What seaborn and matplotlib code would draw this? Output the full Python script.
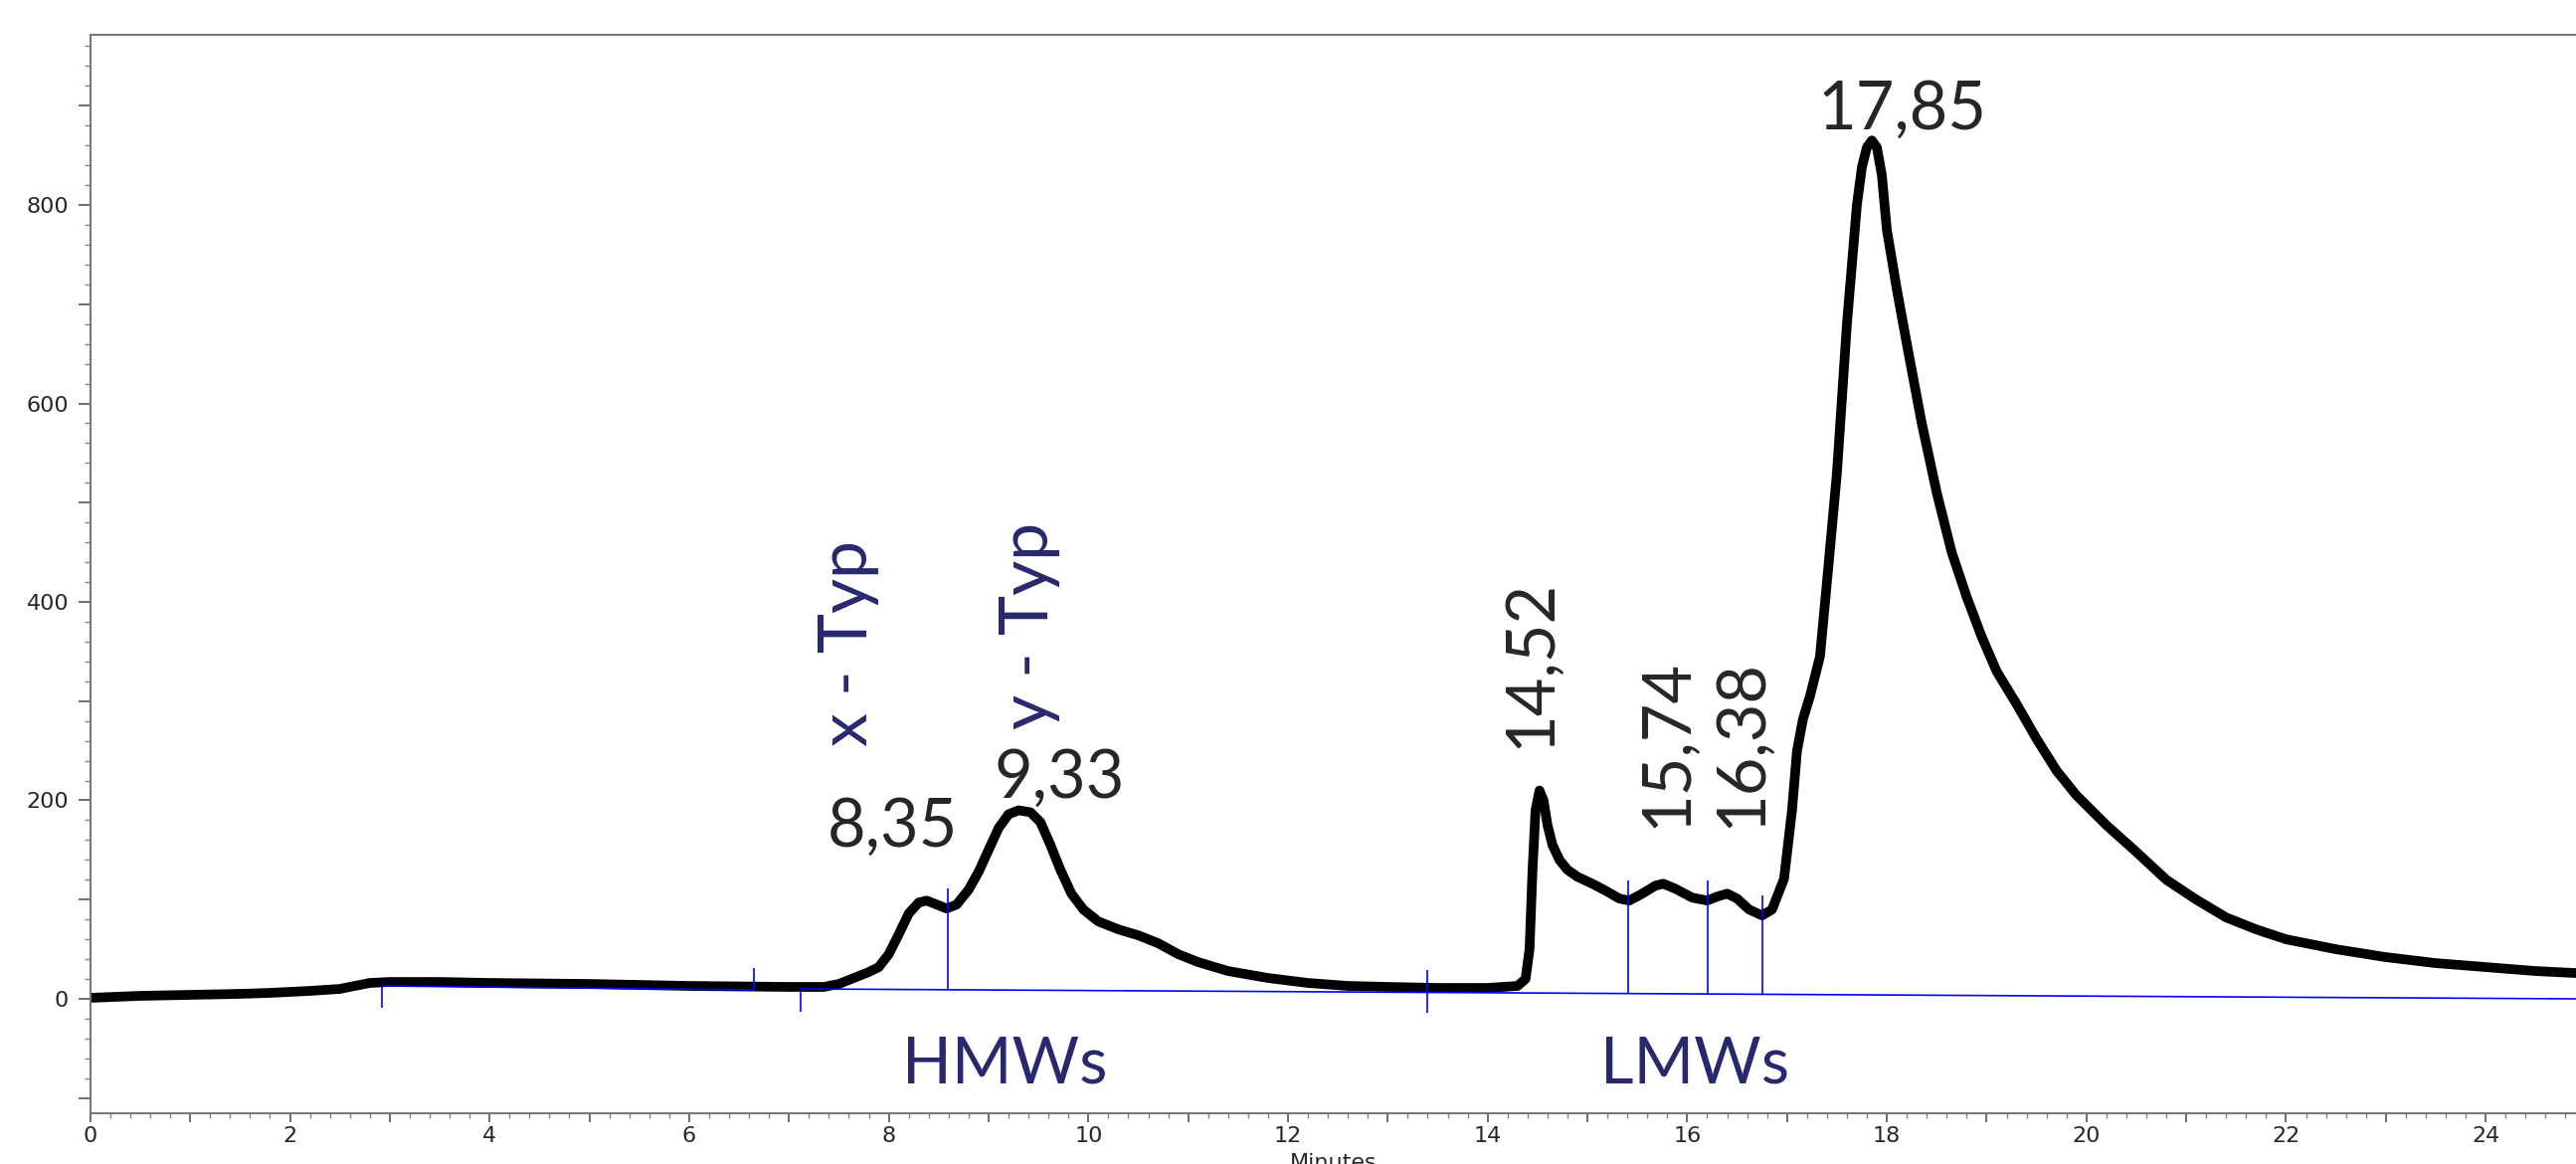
import matplotlib
matplotlib.use("Agg")
import matplotlib.pyplot as plt
import seaborn as sns
import pandas as pd
from matplotlib.ticker import MultipleLocator, FuncFormatter

# chromatogram trace (minutes, signal)
minutes = [0.0, 0.5, 1.0, 1.5, 1.8, 2.2, 2.5, 2.65, 2.8, 3.0, 3.5, 4.0, 5.0, 6.0, 7.0, 7.35,
           7.5, 7.65, 7.8, 7.9, 8.0, 8.1, 8.2, 8.3, 8.38, 8.48, 8.58, 8.68, 8.8, 8.9, 9.0,
           9.1, 9.2, 9.3, 9.42, 9.52, 9.62, 9.72, 9.83, 9.95, 10.1, 10.3, 10.5, 10.7, 10.9,
           11.1, 11.4, 11.8, 12.2, 12.6, 13.0, 13.5, 14.0, 14.3, 14.38, 14.42, 14.45, 14.48,
           14.52, 14.56, 14.6, 14.65, 14.72, 14.8, 14.9, 15.05, 15.2, 15.32, 15.42, 15.55,
           15.68, 15.76, 15.88, 16.05, 16.2, 16.3, 16.4, 16.5, 16.62, 16.75, 16.85, 16.97,
           17.05, 17.1, 17.16, 17.23, 17.33, 17.4, 17.5, 17.6, 17.7, 17.75, 17.8, 17.85,
           17.9, 17.95, 18.0, 18.1, 18.2, 18.35, 18.5, 18.65, 18.8, 18.95, 19.1, 19.3, 19.5,
           19.7, 19.9, 20.2, 20.5, 20.8, 21.1, 21.4, 21.7, 22.0, 22.5, 23.0, 23.5, 24.0,
           24.5, 24.9]
signal = [1, 3, 4, 5, 6, 8, 10, 13, 16, 17, 17, 16, 15, 13, 12, 12,
          15, 21, 27, 32, 45, 65, 86, 97, 99, 95, 91, 95, 110, 128, 150,
          172, 186, 190, 188, 178, 155, 130, 106, 90, 78, 70, 64, 56, 45,
          37, 28, 21, 16, 13, 12, 11, 11, 13, 20, 50, 130, 190,
          210, 200, 175, 155, 140, 130, 123, 116, 108, 101, 99, 106,
          114, 116, 111, 102, 99, 103, 106, 101, 90, 84, 90, 121,
          190, 250, 282, 305, 345, 420, 530, 680, 800, 838, 858, 865,
          858, 830, 775, 715, 660, 580, 510, 450, 405, 365, 330, 297, 262,
          230, 205, 175, 148, 120, 100, 82, 70, 60, 50, 42, 36, 32,
          28, 26]

# integration baselines and drop lines (blue)
base1_x = [2.92, 6.65]
base1_y = [13, 9]
base2_x = [7.12, 24.9]
base2_y = [10, 0]
drop_x = [2.92, 6.65, 7.12, 8.59, 13.40, 15.41, 16.21, 16.75]
drop_lo = [-9, 9, -13, 9, -14, 6, 5, 5]
drop_hi = [13, 31, 10, 111, 29, 119, 119, 104]

peak_labels = ['8,35', '9,33', '14,52', '15,74', '16,38', '17,85']
type_labels = ['x - Typ', 'y - Typ']
group_labels = ['HMWs', 'LMWs']

sns.set_style("ticks")
plt.rcParams['font.family'] = ['DejaVu Sans']

navy = '#28286E'
blue = '#0000FF'
ann_font = ['Lato', 'DejaVu Sans']

df = pd.DataFrame({'minutes': minutes, 'signal': signal})

fig = plt.figure(figsize=(25.9, 11.7), dpi=100)
ax = fig.add_axes([0.03506, 0.0436, 1 - 0.03506, 0.9267])

sns.lineplot(data=df, x='minutes', y='signal', color='black', lw=7,
             sort=False, estimator=None, ax=ax, zorder=2,
             solid_joinstyle='round', solid_capstyle='round')

ax.plot(base1_x, base1_y, color=blue, lw=1.2, zorder=3)
ax.plot(base2_x, base2_y, color=blue, lw=1.2, zorder=3)
ax.vlines(drop_x, drop_lo, drop_hi, color=blue, lw=1.2, zorder=3)

ax.set_xlim(0, 24.905)
ax.set_ylim(-115.3, 971.7)

# peak annotations
ax.text(8.04, 154, peak_labels[0], fontsize=48, family=ann_font, ha='center', va='baseline')
ax.text(9.71, 203, peak_labels[1], fontsize=48, family=ann_font, ha='center', va='baseline')
ax.text(14.43, 338, peak_labels[2], fontsize=48, family=ann_font, ha='center', va='center', rotation=90)
ax.text(15.80, 258, peak_labels[3], fontsize=48, family=ann_font, ha='center', va='center', rotation=90)
ax.text(16.55, 258, peak_labels[4], fontsize=48, family=ann_font, ha='center', va='center', rotation=90)
ax.text(18.15, 876, peak_labels[5], fontsize=48, family=ann_font, ha='center', va='baseline')

ax.text(7.60, 358, type_labels[0], fontsize=49, family=ann_font, color=navy, ha='center', va='center', rotation=90)
ax.text(9.41, 376, type_labels[1], fontsize=49, family=ann_font, color=navy, ha='center', va='center', rotation=90)

ax.text(9.16, -85, group_labels[0], fontsize=47, family=ann_font, color=navy, ha='center', va='baseline')
ax.text(16.08, -85, group_labels[1], fontsize=47, family=ann_font, color=navy, ha='center', va='baseline')

# axes styling
ax.spines['right'].set_visible(False)
for side in ['left', 'top', 'bottom']:
    ax.spines[side].set_color('#777777')
    ax.spines[side].set_linewidth(1.5)

ax.xaxis.set_major_locator(MultipleLocator(1))
ax.xaxis.set_minor_locator(MultipleLocator(0.2))
ax.yaxis.set_major_locator(MultipleLocator(100))
ax.yaxis.set_minor_locator(MultipleLocator(20))
ax.xaxis.set_major_formatter(FuncFormatter(lambda v, p: f"{v:.0f}" if round(v) % 2 == 0 else ""))
ax.yaxis.set_major_formatter(FuncFormatter(lambda v, p: f"{v:.0f}" if round(v) % 200 == 0 and 0 <= v <= 800 else ""))

ax.tick_params(axis='x', which='major', length=6.5, width=1.2, color='#555555', pad=3, labelsize=16)
ax.tick_params(axis='x', which='minor', length=3.5, width=1.0, color='#888888')
ax.tick_params(axis='y', which='major', length=8.6, width=1.2, color='#555555', pad=7, labelsize=16)
ax.tick_params(axis='y', which='minor', length=4.3, width=1.0, color='#888888')

ax.set_xlabel('Minutes', fontsize=16, labelpad=5)
ax.set_ylabel('')

fig.savefig('out.png', dpi=100)
plt.close(fig)
